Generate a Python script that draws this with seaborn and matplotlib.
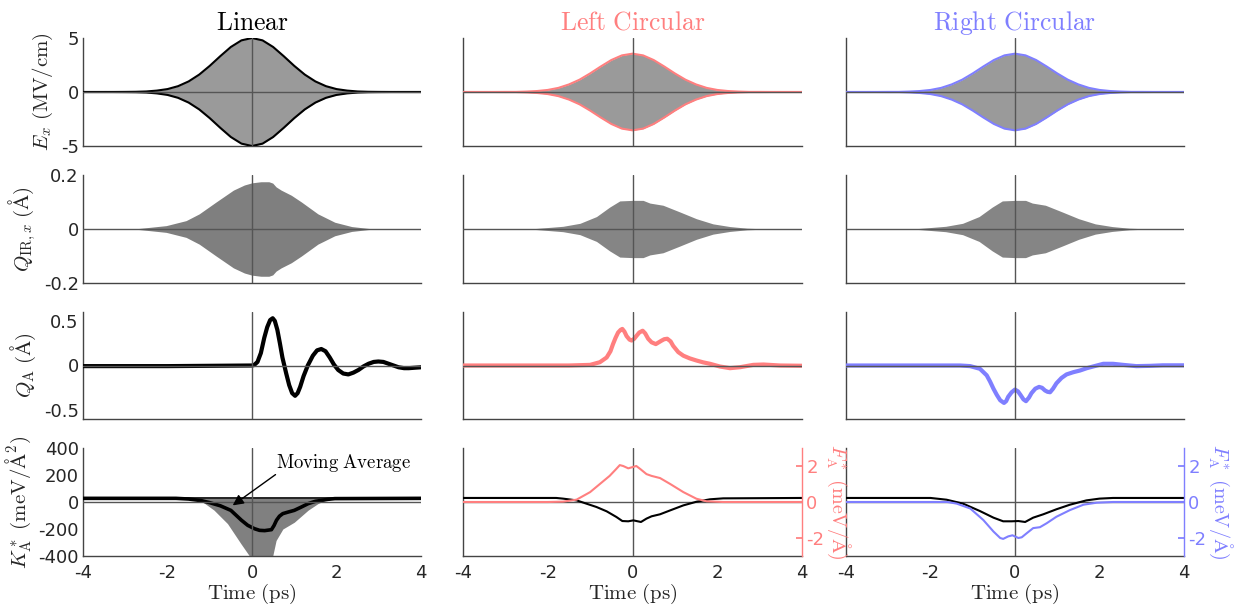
import numpy as np
import pandas as pd
import matplotlib
matplotlib.use('Agg')
import matplotlib.pyplot as plt
import seaborn as sns

sns.set_theme(style='white')
plt.rcParams['font.family'] = ['DejaVu Sans']
plt.rcParams['mathtext.fontset'] = 'cm'
plt.rcParams['axes.unicode_minus'] = False

# ---------------- data ----------------
titles = ['Linear', 'Left Circular', 'Right Circular']
x_ticks = [-4, -2, 0, 2, 4]

# Row 1: E_x envelope (MV/cm)
t_env = [-4, -3.5, -3, -2.75, -2.5, -2.25, -2, -1.75, -1.5, -1.25, -1, -0.75, -0.5,
         -0.25, 0, 0.25, 0.5, 0.75, 1, 1.25, 1.5, 1.75, 2, 2.25, 2.5, 2.75, 3, 3.5, 4]
E_lin_env = [0, 0, 0.01, 0.02, 0.05, 0.13, 0.27, 0.54, 0.98, 1.61, 2.42, 3.32, 4.17,
             4.78, 5.0, 4.78, 4.17, 3.32, 2.42, 1.61, 0.98, 0.54, 0.27, 0.13, 0.05, 0.02, 0.01, 0, 0]
E_circ_env = [0, 0, 0.01, 0.01, 0.04, 0.09, 0.19, 0.38, 0.70, 1.14, 1.72, 2.36, 2.96,
              3.39, 3.55, 3.39, 2.96, 2.36, 1.72, 1.14, 0.70, 0.38, 0.19, 0.09, 0.04, 0.01, 0.01, 0, 0]

# Row 2: Q_IR,x envelope (Angstrom)
t_qir_lin = [-4, -3, -2.67, -2.03, -1.56, -1.25, -0.85, -0.44, -0.18, 0, 0.21, 0.40,
             0.49, 0.57, 0.69, 0.93, 1.17, 1.56, 1.96, 2.36, 2.76, 3.2, 4]
qir_lin_env = [0, 0, 0.002, 0.0125, 0.031, 0.056, 0.100, 0.144, 0.163, 0.171, 0.175, 0.175,
               0.170, 0.156, 0.144, 0.125, 0.100, 0.056, 0.025, 0.009, 0.002, 0, 0]
t_qir_circ = [-4, -2.6, -2.27, -1.64, -1.24, -0.85, -0.54, -0.30, 0, 0.25, 0.41, 0.72,
              1.12, 1.51, 1.90, 2.30, 2.70, 3.2, 4]
qir_circ_env = [0, 0, 0.002, 0.010, 0.021, 0.046, 0.081, 0.104, 0.106, 0.106, 0.096, 0.088,
                0.063, 0.038, 0.019, 0.009, 0.003, 0, 0]

# Row 3: Q_A (Angstrom)
t_qa_lin = [-4, -2, 0, 0.05, 0.13, 0.21, 0.29, 0.36, 0.43, 0.49, 0.54, 0.60, 0.66, 0.72,
            0.81, 0.88, 0.95, 1.02, 1.08, 1.14, 1.22, 1.32, 1.44, 1.54, 1.64, 1.74, 1.84,
            1.94, 2.04, 2.16, 2.28, 2.40, 2.52, 2.64, 2.76, 2.88, 2.99, 3.11, 3.23, 3.35,
            3.47, 3.60, 3.71, 3.85, 4]
qa_lin = [-0.007, -0.007, 0.0, 0.005, 0.04, 0.14, 0.31, 0.43, 0.51, 0.53, 0.50, 0.40, 0.25,
          0.09, -0.09, -0.22, -0.31, -0.34, -0.31, -0.24, -0.12, 0.0, 0.11, 0.17, 0.185,
          0.16, 0.09, 0.01, -0.05, -0.09, -0.10, -0.08, -0.05, -0.01, 0.02, 0.04, 0.045,
          0.04, 0.02, 0.0, -0.02, -0.03, -0.03, -0.025, -0.02]
t_qa_left = [-4, -1.5, -1.0, -0.77, -0.61, -0.52, -0.46, -0.40, -0.34, -0.28, -0.24, -0.19,
             -0.14, -0.07, -0.02, 0.04, 0.09, 0.16, 0.24, 0.30, 0.37, 0.45, 0.55, 0.62, 0.69,
             0.75, 0.82, 0.90, 0.96, 1.08, 1.2, 1.35, 1.51, 1.67, 1.83, 2.06, 2.3, 2.54, 2.85,
             3.09, 3.48, 4]
qa_left = [0, 0, 0.007, 0.037, 0.09, 0.16, 0.24, 0.31, 0.37, 0.40, 0.41, 0.38, 0.33, 0.29,
           0.28, 0.30, 0.33, 0.37, 0.39, 0.36, 0.30, 0.26, 0.24, 0.26, 0.28, 0.295, 0.30,
           0.27, 0.22, 0.15, 0.11, 0.08, 0.056, 0.035, 0.019, -0.011, -0.03, -0.019, 0.007,
           0.011, 0.0, -0.003]
t_qa_right = [-4, -1.3, -1.06, -0.83, -0.67, -0.59, -0.51, -0.43, -0.35, -0.26, -0.21, -0.16,
              -0.08, 0, 0.07, 0.13, 0.2, 0.26, 0.33, 0.39, 0.48, 0.57, 0.64, 0.71, 0.77, 0.83,
              0.9, 0.98, 1.1, 1.22, 1.38, 1.54, 1.7, 1.85, 2.09, 2.32, 2.56, 2.87, 3.19, 3.5, 4]
qa_right = [0, 0, -0.007, -0.037, -0.11, -0.18, -0.26, -0.33, -0.39, -0.42, -0.40, -0.35,
            -0.30, -0.27, -0.29, -0.33, -0.38, -0.40, -0.36, -0.31, -0.26, -0.24, -0.25,
            -0.28, -0.295, -0.30, -0.26, -0.20, -0.14, -0.10, -0.075, -0.056, -0.03, -0.011,
            0.019, 0.019, 0.007, -0.007, -0.004, 0.002, 0.002]

# Row 4: K*_A (meV/A^2) and F*_A (meV/A)
t_k_band = [-4, 4]
k_band_upper = [27, 27]
t_k_lower = [-4, -1.5, -1.21, -0.9, -0.58, -0.26, -0.06, 0.1, 0.35, 0.49, 0.57, 0.73, 1.0,
             1.33, 1.56, 1.72, 2.0, 4]
k_lower = [27, 27, 10, -60, -160, -310, -400, -460, -460, -400, -285, -200, -150, -60, -12,
           10, 27, 27]
t_k_ma = [-4, -1.8, -1.5, -1.2, -1.0, -0.75, -0.5, -0.25, -0.1, 0.06, 0.18, 0.3, 0.46, 0.52,
          0.58, 0.65, 0.73, 0.85, 1.0, 1.15, 1.33, 1.5, 1.65, 1.8, 1.96, 4]
k_ma = [27, 27, 22, 10, -5, -28, -62, -135, -173, -198, -210, -212, -205, -175, -135, -105,
        -86, -75, -62, -40, -12, 5, 12, 20, 25, 27]
t_k_left = [-4, -1.8, -1.64, -1.32, -1.09, -0.85, -0.61, -0.38, -0.24, -0.1, 0.02, 0.2, 0.33,
            0.45, 0.65, 0.89, 1.2, 1.51, 1.83, 2.14, 4]
k_left = [30, 30, 25, 12, -12, -37, -69, -111, -141, -143, -136, -148, -123, -106, -91, -62,
          -25, 2, 20, 27, 30]
t_f_left = [-4, -2, -1.64, -1.32, -1.0, -0.77, -0.54, -0.39, -0.3, -0.22, -0.1, 0.09, 0.19,
            0.33, 0.45, 0.65, 0.89, 1.2, 1.51, 1.75, 2.14, 4]
f_left = [0, 0, 0.02, 0.13, 0.55, 1.0, 1.45, 1.82, 2.05, 2.0, 1.87, 2.0, 1.82, 1.55, 1.45,
          1.33, 1.0, 0.55, 0.18, 0.04, 0, 0]
t_k_right = [-4, -2, -1.62, -1.23, -0.83, -0.51, -0.28, -0.08, 0.08, 0.24, 0.43, 0.67, 0.98,
             1.3, 1.69, 2.0, 2.32, 4]
k_right = [30, 30, 17, -12, -67, -116, -143, -143, -141, -148, -116, -91, -54, -20, 12, 25,
           30, 30]
t_f_right = [-4, -1.6, -1.38, -1.06, -0.75, -0.51, -0.35, -0.28, -0.16, -0.06, 0.08, 0.16,
             0.28, 0.43, 0.59, 0.75, 0.98, 1.3, 1.62, 1.93, 2.32, 4]
f_right = [0, 0, -0.09, -0.36, -1.0, -1.64, -2.0, -2.05, -1.91, -1.85, -2.0, -1.96, -1.73,
           -1.45, -1.4, -1.18, -0.82, -0.45, -0.15, -0.04, 0, 0]

ylims = [(-5, 5), (-0.2, 0.2), (-0.6, 0.6), (-400, 400)]
yticks = [[-5, 0, 5], [-0.2, 0, 0.2], [-0.5, 0, 0.5], [-400, -200, 0, 200, 400]]
yticklabels = [['-5', '0', '5'], ['-0.2', '0', '0.2'], ['-0.5', '0', '0.5'],
               ['-400', '-200', '0', '200', '400']]
ylabels = [r'$E_x\ \mathrm{(MV/cm)}$', r'$Q_{\mathrm{IR},x}\ \mathrm{(\AA)}$',
           r'$Q_{\mathrm{A}}\ \mathrm{(\AA)}$', r'$K^*_{\mathrm{A}}\ \mathrm{(meV/\AA^2)}$']
f_label = r'$F^*_{\mathrm{A}}\ \mathrm{(meV/\AA)}$'
f_ticks = [-2, 0, 2]
f_ticklabels = ['-2', '0', '2']

# ---------------- styling ----------------
BLACK = '#000000'
PINK = '#ff7f7f'
BLUE = '#7f7fff'
col_colors = [BLACK, PINK, BLUE]
AX_COL = '#444444'
TXT_COL = '#262626'
ZERO_COL = '#555555'
TICK_FS = 13

fig = plt.figure(figsize=(12.35, 6.1), dpi=100)
W, H = 1235, 610
lefts = [83, 463, 846]
widths = [338, 339, 338]
tops = [38, 175, 312, 448]
heights = [108, 108, 107, 108]


def make_ax(r, c):
    return fig.add_axes([lefts[c] / W, (H - tops[r] - heights[r]) / H,
                         widths[c] / W, heights[r] / H])


def line(ax, x, y, color, lw, z=3):
    sns.lineplot(x=x, y=y, ax=ax, color=color, lw=lw, estimator=None, sort=False,
                 zorder=z, legend=False)


axes = [[make_ax(r, c) for c in range(3)] for r in range(4)]

for r in range(4):
    for c in range(3):
        ax = axes[r][c]
        ax.set_facecolor('white')
        ax.set_xlim(-4, 4)
        ax.set_ylim(*ylims[r])
        for s in ['top', 'right']:
            ax.spines[s].set_visible(False)
        for s in ['left', 'bottom']:
            ax.spines[s].set_color(AX_COL)
            ax.spines[s].set_linewidth(1.0)
        ax.axvline(0, color=ZERO_COL, lw=1.0, zorder=4)
        ax.axhline(0, color=ZERO_COL, lw=1.0, zorder=4)
        ax.set_xticks(x_ticks)
        if r == 3:
            ax.set_xticklabels([str(v) for v in x_ticks])
            ax.tick_params(axis='x', direction='in', length=4, color=AX_COL,
                           labelsize=TICK_FS, labelcolor=TXT_COL, pad=6)
        else:
            ax.set_xticklabels([])
            ax.tick_params(axis='x', length=0)
        if c == 0:
            ax.set_yticks(yticks[r])
            ax.set_yticklabels(yticklabels[r])
            ax.tick_params(axis='y', direction='in', length=4, color=AX_COL,
                           labelsize=TICK_FS, labelcolor=TXT_COL, pad=3)
            ax.set_ylabel(ylabels[r], fontsize=15, color=TXT_COL, labelpad=4)
        else:
            ax.set_yticks([])
        ax.grid(False)

for c in range(3):
    axes[3][c].set_xlabel(r'$\mathrm{Time\ (ps)}$', fontsize=15, color=TXT_COL, labelpad=0)
    axes[0][c].set_title(r'$\mathrm{' + titles[c].replace(' ', r'\ ') + '}$',
                         fontsize=18.5, color=col_colors[c], pad=6)

# Row 1: field envelopes
for c in range(3):
    ax = axes[0][c]
    env = E_lin_env if c == 0 else E_circ_env
    ax.fill_between(t_env, [-v for v in env], env, color='#9a9a9a', lw=0, zorder=2)
    line(ax, t_env, env, col_colors[c], 1.5)
    line(ax, t_env, [-v for v in env], col_colors[c], 1.5)

# Row 2: IR mode envelopes
for c in range(3):
    ax = axes[1][c]
    if c == 0:
        t, env, fc = t_qir_lin, qir_lin_env, '#7f7f7f'
    else:
        t, env, fc = t_qir_circ, qir_circ_env, '#858585'
    ax.fill_between(t, [-v for v in env], env, color=fc, lw=0, zorder=2)

# Row 3: Q_A
line(axes[2][0], t_qa_lin, qa_lin, BLACK, 3.0)
line(axes[2][1], t_qa_left, qa_left, PINK, 3.0)
line(axes[2][2], t_qa_right, qa_right, BLUE, 3.0)

# Row 4
ax = axes[3][0]
ax.fill_between(t_k_lower, k_lower, [27] * len(t_k_lower), color='#808080', lw=0, zorder=2)
line(ax, t_k_band, k_band_upper, BLACK, 1.2)
line(ax, t_k_ma, k_ma, BLACK, 2.6)
ax.text(0.56, 289, r'$\mathrm{Moving\ Average}$', fontsize=13.5, color=BLACK,
        ha='left', va='center', zorder=6)
ax.annotate('', xy=(-0.51, -37), xytext=(0.61, 215),
            arrowprops=dict(arrowstyle='-|>', color=BLACK, lw=1.0, mutation_scale=16),
            zorder=6)

for c, (tk, kk, tf, ff, colr) in zip([1, 2], [(t_k_left, k_left, t_f_left, f_left, PINK),
                                               (t_k_right, k_right, t_f_right, f_right, BLUE)]):
    ax = axes[3][c]
    line(ax, tk, kk, BLACK, 1.5, z=5)
    ax2 = ax.twinx()
    ax2.set_position(ax.get_position())
    ax2.set_ylim(-3, 3)
    ax2.set_xlim(-4, 4)
    for s in ['top', 'left', 'bottom']:
        ax2.spines[s].set_visible(False)
    ax2.spines['right'].set_color(colr)
    ax2.spines['right'].set_linewidth(1.0)
    ax2.set_yticks(f_ticks)
    ax2.set_yticklabels(f_ticklabels)
    ax2.tick_params(axis='y', direction='in', length=4, color=colr, labelsize=TICK_FS,
                    labelcolor=colr, pad=3)
    ax2.grid(False)
    line(ax2, tf, ff, colr, 1.5, z=4)
    ax2.set_ylabel(f_label, fontsize=14.5, color=colr, rotation=-90, labelpad=20)
    ax2.set_xlabel('')

fig.savefig('out.png', dpi=100, facecolor='white')
